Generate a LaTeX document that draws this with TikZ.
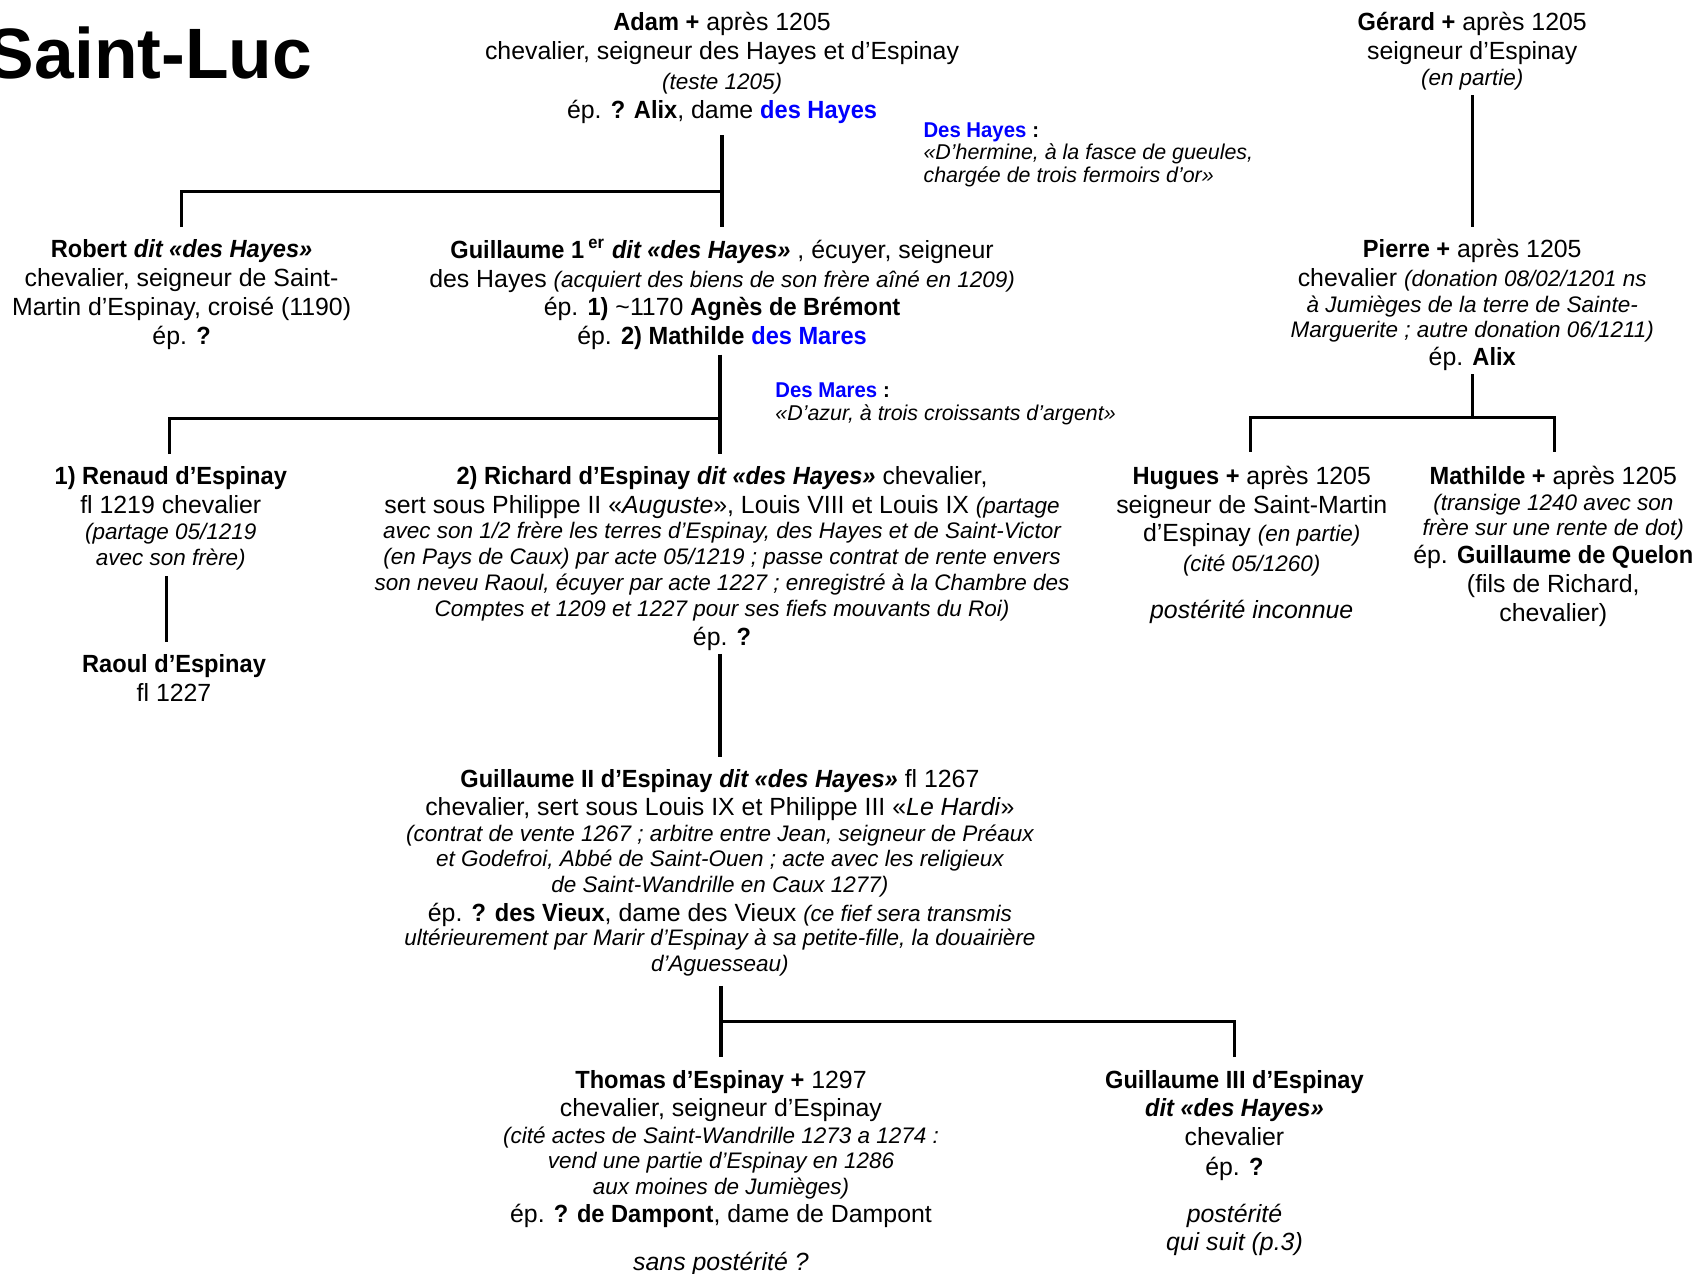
\documentclass[tikz,border=0pt]{standalone}
\usepackage{fontspec}
\setmainfont{Liberation Sans}[BoldFeatures={FakeStretch=0.95},BoldItalicFeatures={FakeStretch=0.95}]
\newfontfamily\titlefont{Liberation Sans}
\usetikzlibrary{calc}
\definecolor{hblue}{RGB}{0,0,255}
\newcommand\msz{\fontsize{11.5}{13.5}\selectfont}
\newcommand\ssz{\fontsize{10.4}{12}\selectfont}
\newcommand\bsz{\fontsize{9.9}{10.4}\selectfont}
\newcommand\sit[1]{{\ssz\itshape #1}}
\newcommand\bi[1]{{\bfseries\itshape #1}}
\begin{document}
\begin{tikzpicture}[x=0.5pt,y=-0.5pt,
  person/.style={anchor=north, align=center, inner sep=0pt, font=\msz},
  blazon/.style={anchor=north west, align=left, inner sep=0pt, font=\bsz},
  conn/.style={line width=1.5pt}]
\useasboundingbox (0,0) rectangle (1569,1178);

\node[anchor=base east, inner sep=0pt, font=\titlefont\fontsize{33}{36}\selectfont\bfseries] (title) at (289,73) {Saint-Luc};

\node[person] (adam) at (668,11) {{\bfseries Adam +} après 1205\\
chevalier, seigneur des Hayes et d’Espinay\\
\sit{(teste 1205)}\\
ép. {\bfseries ? Alix}, dame {\bfseries\color{hblue} des Hayes}};

\node[blazon] (deshayes) at (854,113) {{\bfseries\color{hblue} Des Hayes} {\bfseries :}\\
\textit{«D’hermine, à la fasce de gueules,}\\
\textit{chargée de trois fermoirs d’or»}};

\node[person] (gerard) at (1362,11) {{\bfseries Gérard +} après 1205\\
seigneur d’Espinay\\[-1.5pt]
\sit{(en partie)}};

\node[person] (pierre) at (1362,221) {{\bfseries Pierre +} après 1205\\
chevalier \sit{(donation 08/02/1201 ns}\\[-1.5pt]
\sit{à Jumièges de la terre de Sainte-}\\[-2pt]
\sit{Marguerite ; autre donation 06/1211)}\\[-0.5pt]
ép. {\bfseries Alix}};

\node[person] (robert) at (168,221) {{\bfseries Robert} \bi{dit «des Hayes»}\\
chevalier, seigneur de Saint-\\
Martin d’Espinay, croisé (1190)\\
ép. {\bfseries ?}};

\node[person] (guil1) at (668,221) {{\bfseries Guillaume 1\,\textsuperscript{er}} \bi{dit «des Hayes»} , écuyer, seigneur\\
des Hayes \sit{(acquiert des biens de son frère aîné en 1209)}\\[-0.5pt]
ép. {\bfseries 1)} \textasciitilde 1170 {\bfseries Agnès de Brémont}\\
ép. {\bfseries 2) Mathilde} {\bfseries\color{hblue} des Mares}};

\node[blazon] (desmares) at (717,354) {{\bfseries\color{hblue} Des Mares} {\bfseries :}\\
\textit{«D’azur, à trois croissants d’argent»}};

\node[person] (renaud) at (158,431) {{\bfseries 1) Renaud d’Espinay}\\
fl 1219 chevalier\\[-1.5pt]
\sit{(partage 05/1219}\\[-1.5pt]
\sit{avec son frère)}};

\node[person] (raoul) at (161,605) {{\bfseries Raoul d’Espinay}\\
fl 1227};

\node[person] (richard) at (668,431) {{\bfseries 2) Richard d’Espinay} \bi{dit «des Hayes»} chevalier,\\
sert sous Philippe II «\textit{Auguste}», Louis VIII et Louis IX \sit{(partage}\\[-2pt]
\sit{avec son 1/2 frère les terres d’Espinay, des Hayes et de Saint-Victor}\\[-1.5pt]
\sit{(en Pays de Caux) par acte 05/1219 ; passe contrat de rente envers}\\[-1.5pt]
\sit{son neveu Raoul, écuyer par acte 1227 ; enregistré à la Chambre des}\\[-1.5pt]
\sit{Comptes et 1209 et 1227 pour ses fiefs mouvants du Roi)}\\
ép. {\bfseries ?}};

\node[person] (hugues) at (1158,431) {{\bfseries Hugues +} après 1205\\
seigneur de Saint-Martin\\[-0.5pt]
d’Espinay \sit{(en partie)}\\
\sit{(cité 05/1260)}\\[8.5pt]
\textit{postérité inconnue}};

\node[person] (mathilde) at (1437,431) {{\bfseries Mathilde +} après 1205\\[-1.5pt]
\sit{(transige 1240 avec son}\\[-2pt]
\sit{frère sur une rente de dot)}\\[-0.5pt]
ép. {\bfseries Guillaume de Quelon}\\
(fils de Richard,\\
chevalier)};

\node[person] (guil2) at (666,711) {{\bfseries Guillaume II d’Espinay} \bi{dit «des Hayes»} fl 1267\\[-0.5pt]
chevalier, sert sous Louis IX et Philippe III «\textit{Le Hardi}»\\[-1.5pt]
\sit{(contrat de vente 1267 ; arbitre entre Jean, seigneur de Préaux}\\[-1.5pt]
\sit{et Godefroi, Abbé de Saint-Ouen ; acte avec les religieux}\\[-1.5pt]
\sit{de Saint-Wandrille en Caux 1277)}\\[-0.5pt]
ép. {\bfseries ? des Vieux}, dame des Vieux \sit{(ce fief sera transmis}\\[-2pt]
\sit{ultérieurement par Marir d’Espinay à sa petite-fille, la douairière}\\[-1.5pt]
\sit{d’Aguesseau)}};

\node[person] (thomas) at (667,990) {{\bfseries Thomas d’Espinay +} 1297\\[-0.5pt]
chevalier, seigneur d’Espinay\\[-1pt]
\sit{(cité actes de Saint-Wandrille 1273 a 1274 :}\\[-2pt]
\sit{vend une partie d’Espinay en 1286}\\[-1.5pt]
\sit{aux moines de Jumièges)}\\[-0.5pt]
ép. {\bfseries ? de Dampont}, dame de Dampont\\[8.5pt]
\textit{sans postérité ?}};

\node[person] (guil3) at (1142,990) {{\bfseries Guillaume III d’Espinay}\\[-0.5pt]
\bi{dit «des Hayes»}\\
chevalier\\
ép. {\bfseries ?}\\[8.5pt]
\textit{postérité}\\[-0.5pt]
\textit{qui suit (p.3)}};

% connector coordinates
\coordinate (adamD) at (668,125);
\coordinate (jAdam) at (668,177);
\coordinate (guil1U) at (668,210);
\coordinate (robertU) at (168,210);
\coordinate (gerardD) at (1362,88);
\coordinate (pierreU) at (1362,210);
\coordinate (pierreD) at (1362,346);
\coordinate (jPierre) at (1362,386);
\coordinate (huguesU) at (1157,418);
\coordinate (mathildeU) at (1438,418);
\coordinate (guil1D) at (666,328);
\coordinate (jGuil1) at (666,387);
\coordinate (richardU) at (666,420);
\coordinate (renaudU) at (157,420);
\coordinate (renaudD) at (154,533);
\coordinate (raoulU) at (154,594);
\coordinate (richardD) at (666,605);
\coordinate (guil2U) at (666,700);
\coordinate (guil2D) at (667,912);
\coordinate (jGuil2) at (667,945);
\coordinate (thomasU) at (667,978);
\coordinate (guil3U) at (1142,978);

\draw[conn] (adamD) -- (guil1U);
\draw[conn] (robertU) |- (jAdam);
\draw[conn] (gerardD) -- (pierreU);
\draw[conn] (pierreD) -- (jPierre);
\draw[conn] (huguesU) |- (jPierre) -| (mathildeU);
\draw[conn] (guil1D) -- (richardU);
\draw[conn] (renaudU) |- (jGuil1);
\draw[conn] (renaudD) -- (raoulU);
\draw[conn] (richardD) -- (guil2U);
\draw[conn] (guil2D) -- (thomasU);
\draw[conn] (guil3U) |- (jGuil2);
\end{tikzpicture}
\end{document}
